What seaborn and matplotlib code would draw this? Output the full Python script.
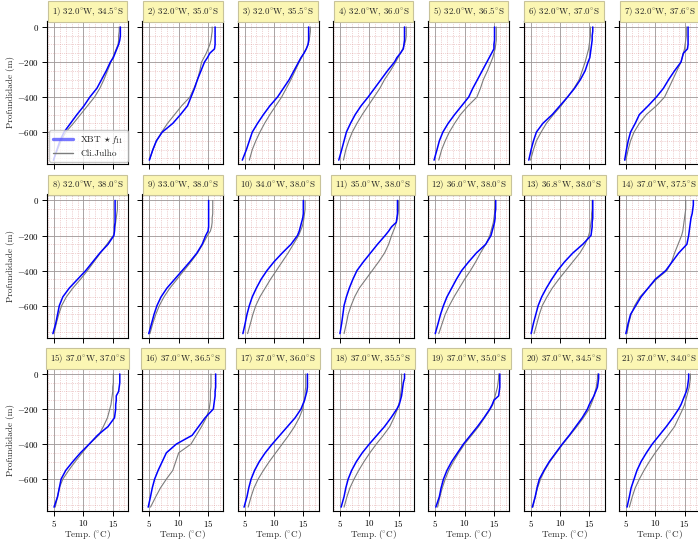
import matplotlib
matplotlib.use("Agg")
import numpy as np
import pandas as pd
import matplotlib.pyplot as plt
import seaborn as sns
from matplotlib.ticker import AutoMinorLocator, FixedLocator
from matplotlib.lines import Line2D

# ---------------- data ----------------
DEPTH = [0, 25, 50, 75, 100, 125, 150, 175, 200, 250, 300, 350, 400, 450, 500, 550, 600, 650, 700, 760]

LON = [32.0, 32.0, 32.0, 32.0, 32.0, 32.0, 32.0, 32.0, 33.0, 34.0, 35.0, 36.0, 36.8,
       37.0, 37.0, 37.0, 37.0, 37.0, 37.0, 37.0, 37.0]
LAT = [34.5, 35.0, 35.5, 36.0, 36.5, 37.0, 37.6, 38.0, 38.0, 38.0, 38.0, 38.0, 38.0,
       37.5, 37.0, 36.5, 36.0, 35.5, 35.0, 34.5, 34.0]

xbt_01 = [16.3, 16.3, 16.3, 16.2, 16.0, 15.7, 15.4, 15.1, 14.6, 13.9, 13.1, 12.3, 11.1, 10.1, 8.9, 7.8, 6.7, 6.0, 5.5, 4.9]
cli_01 = [16.1, 16.1, 16.0, 16.0, 15.9, 15.6, 15.3, 15.0, 14.7, 14.1, 13.5, 12.8, 11.9, 10.7, 9.5, 8.3, 7.0, 6.2, 5.6, 4.9]
xbt_02 = [16.2, 16.2, 16.2, 16.2, 16.2, 16.1, 15.3, 14.9, 14.4, 13.8, 13.2, 12.7, 12.1, 11.5, 10.3, 9.0, 7.2, 6.2, 5.6, 5.0]
cli_02 = [15.7, 15.7, 15.6, 15.5, 15.3, 15.0, 14.7, 14.3, 13.9, 13.6, 13.2, 12.6, 11.9, 10.5, 9.3, 8.1, 7.1, 6.2, 5.6, 5.0]
xbt_03 = [15.9, 15.9, 15.9, 15.9, 15.8, 15.5, 15.1, 14.6, 14.2, 13.4, 12.6, 11.6, 10.6, 9.3, 8.2, 7.2, 6.3, 5.8, 5.3, 4.6]
cli_03 = [16.2, 16.2, 16.1, 16.0, 15.8, 15.5, 15.1, 14.7, 14.3, 13.6, 12.9, 12.1, 11.3, 10.3, 9.3, 8.4, 7.6, 6.9, 6.3, 5.8]
xbt_04 = [16.0, 16.0, 16.0, 16.0, 15.9, 15.8, 15.3, 14.7, 14.3, 13.1, 12.0, 10.9, 9.8, 8.6, 7.6, 6.8, 6.1, 5.7, 5.3, 4.8]
cli_04 = [16.3, 16.3, 16.3, 16.2, 16.0, 15.7, 15.3, 14.9, 14.5, 13.6, 12.6, 11.8, 10.8, 9.8, 8.8, 7.9, 7.1, 6.5, 6.0, 5.6]
xbt_05 = [15.1, 15.1, 15.1, 15.1, 15.0, 15.0, 14.6, 14.2, 13.8, 13.0, 12.2, 11.4, 10.7, 9.5, 8.3, 7.2, 6.3, 5.7, 5.3, 4.8]
cli_05 = [15.4, 15.4, 15.4, 15.4, 15.3, 15.2, 15.0, 14.8, 14.5, 13.9, 13.2, 12.7, 12.1, 10.6, 9.3, 8.3, 7.4, 6.7, 6.1, 5.6]
xbt_06 = [15.6, 15.6, 15.5, 15.5, 15.4, 15.3, 15.2, 15.1, 14.8, 14.3, 13.5, 12.5, 11.3, 10.0, 8.7, 7.1, 6.0, 5.5, 5.1, 4.7]
cli_06 = [15.2, 15.2, 15.2, 15.1, 15.0, 14.9, 14.7, 14.5, 14.3, 13.8, 13.3, 12.4, 11.3, 10.2, 8.9, 7.7, 6.8, 6.0, 5.5, 5.0]
xbt_07 = [15.6, 15.6, 15.6, 15.6, 15.6, 15.5, 14.8, 14.6, 14.4, 13.3, 12.3, 11.4, 10.2, 8.8, 7.3, 6.6, 5.8, 5.4, 5.1, 4.8]
cli_07 = [15.3, 15.3, 15.3, 15.2, 15.1, 15.0, 14.8, 14.6, 14.4, 13.7, 13.0, 12.3, 11.6, 10.2, 8.5, 7.3, 6.4, 5.8, 5.4, 5.0]
xbt_08 = [15.4, 15.4, 15.4, 15.4, 15.4, 15.4, 15.3, 15.3, 15.2, 14.2, 12.8, 11.6, 10.4, 9.0, 7.6, 6.5, 5.9, 5.6, 5.3, 4.8]
cli_08 = [15.8, 15.8, 15.8, 15.7, 15.6, 15.5, 15.4, 15.3, 15.1, 14.0, 12.9, 11.8, 10.7, 9.5, 8.2, 7.1, 6.3, 5.8, 5.4, 5.0]
xbt_09 = [15.1, 15.1, 15.1, 15.1, 15.1, 15.1, 15.1, 15.0, 14.6, 14.0, 13.1, 11.9, 10.6, 9.3, 8.0, 7.0, 6.3, 5.8, 5.4, 4.9]
cli_09 = [15.8, 15.8, 15.8, 15.8, 15.7, 15.7, 15.6, 15.4, 14.9, 14.1, 13.2, 12.1, 10.9, 9.7, 8.5, 7.5, 6.7, 6.1, 5.6, 5.1]
xbt_10 = [15.0, 15.0, 15.0, 15.0, 14.9, 14.7, 14.5, 14.3, 14.0, 12.9, 11.4, 10.0, 8.8, 7.8, 7.0, 6.3, 5.8, 5.4, 5.1, 4.7]
cli_10 = [15.3, 15.3, 15.3, 15.2, 15.1, 15.0, 14.8, 14.5, 14.2, 13.3, 12.4, 11.4, 10.4, 9.4, 8.5, 7.6, 6.9, 6.4, 6.0, 5.5]
xbt_11 = [14.8, 14.8, 14.8, 14.8, 14.7, 14.6, 13.8, 13.3, 12.7, 11.4, 10.2, 9.0, 7.9, 7.2, 6.6, 6.1, 5.7, 5.5, 5.3, 5.0]
cli_11 = [15.0, 15.0, 15.0, 14.9, 14.8, 14.6, 14.4, 14.1, 13.8, 13.3, 12.6, 11.6, 10.5, 9.4, 8.3, 7.5, 6.9, 6.4, 6.1, 5.7]
xbt_12 = [15.3, 15.3, 15.3, 15.2, 15.2, 15.1, 14.9, 14.7, 14.5, 13.6, 12.0, 10.7, 9.5, 8.6, 7.8, 7.0, 6.4, 5.9, 5.5, 5.0]
cli_12 = [15.2, 15.2, 15.1, 15.1, 15.0, 14.9, 14.7, 14.5, 14.3, 13.6, 12.7, 11.9, 11.0, 10.0, 9.1, 8.2, 7.4, 6.7, 6.2, 5.6]
xbt_13 = [15.6, 15.6, 15.6, 15.6, 15.6, 15.5, 15.5, 15.4, 15.3, 13.9, 12.2, 10.8, 9.6, 8.6, 7.7, 6.9, 6.3, 5.9, 5.5, 5.1]
cli_13 = [15.5, 15.5, 15.5, 15.4, 15.4, 15.3, 15.2, 15.1, 14.9, 14.3, 13.4, 12.2, 11.0, 9.8, 8.7, 7.8, 7.0, 6.5, 6.1, 5.6]
xbt_14 = [16.5, 16.5, 16.4, 16.3, 16.1, 16.0, 15.9, 15.8, 15.7, 15.4, 14.0, 12.9, 11.8, 10.0, 8.8, 7.6, 6.7, 5.8, 5.4, 5.0]
cli_14 = [15.2, 15.2, 15.2, 15.1, 15.0, 14.9, 14.8, 14.7, 14.5, 13.9, 13.3, 12.8, 12.0, 10.2, 8.8, 7.4, 6.5, 5.9, 5.5, 5.2]
xbt_15 = [16.2, 16.2, 16.2, 16.1, 16.0, 15.6, 15.6, 15.5, 15.5, 15.3, 14.2, 12.4, 11.0, 9.5, 8.2, 7.0, 6.2, 5.9, 5.6, 5.0]
cli_15 = [15.1, 15.1, 15.1, 15.0, 15.0, 14.9, 14.8, 14.7, 14.5, 14.1, 13.4, 12.6, 11.0, 9.8, 8.6, 7.5, 6.5, 5.9, 5.6, 5.2]
xbt_16 = [16.3, 16.3, 16.3, 16.3, 16.2, 16.2, 16.1, 16.0, 15.9, 14.5, 13.4, 12.3, 9.6, 7.9, 7.2, 6.5, 5.9, 5.5, 5.2, 4.8]
cli_16 = [15.5, 15.5, 15.5, 15.5, 15.4, 15.4, 15.4, 15.3, 15.2, 14.7, 13.9, 13.0, 12.1, 10.0, 9.5, 9.0, 7.9, 6.9, 6.1, 5.2]
xbt_17 = [15.7, 15.7, 15.7, 15.7, 15.6, 15.4, 15.2, 14.9, 14.6, 13.6, 12.3, 11.0, 9.7, 8.5, 7.5, 6.7, 6.1, 5.7, 5.4, 4.9]
cli_17 = [15.4, 15.4, 15.4, 15.4, 15.3, 15.3, 15.2, 15.0, 14.9, 14.3, 13.5, 12.5, 11.4, 10.3, 9.2, 8.2, 7.3, 6.6, 6.1, 5.6]
xbt_18 = [16.0, 16.0, 15.8, 15.7, 15.6, 15.5, 15.3, 15.1, 14.7, 13.7, 12.6, 11.3, 10.0, 8.8, 7.8, 7.0, 6.4, 6.0, 5.7, 5.2]
cli_18 = [15.5, 15.5, 15.5, 15.5, 15.4, 15.3, 15.2, 15.0, 14.8, 14.2, 13.5, 12.4, 11.2, 10.1, 9.1, 8.2, 7.4, 6.7, 6.2, 5.7]
xbt_19 = [16.0, 16.0, 16.0, 16.0, 15.9, 15.8, 15.0, 14.7, 14.3, 13.3, 12.2, 11.0, 9.8, 8.8, 7.8, 7.0, 6.4, 6.0, 5.7, 5.1]
cli_19 = [15.8, 15.8, 15.7, 15.6, 15.4, 15.2, 15.0, 14.8, 14.4, 13.4, 12.4, 11.2, 10.0, 9.0, 8.1, 7.3, 6.7, 6.2, 5.8, 5.4]
xbt_20 = [16.6, 16.6, 16.5, 16.4, 16.1, 15.8, 15.4, 15.0, 14.7, 13.8, 12.7, 11.6, 10.4, 9.3, 8.2, 7.3, 6.5, 6.1, 5.8, 5.3]
cli_20 = [16.4, 16.4, 16.3, 16.2, 16.0, 15.8, 15.6, 15.3, 15.0, 14.0, 12.9, 11.7, 10.5, 9.4, 8.3, 7.4, 6.7, 6.2, 5.8, 5.4]
xbt_21 = [15.7, 15.7, 15.6, 15.5, 15.3, 15.0, 14.7, 14.4, 14.0, 13.0, 11.9, 10.7, 9.5, 8.5, 7.6, 6.9, 6.4, 5.9, 5.6, 5.2]
cli_21 = [16.0, 16.0, 15.9, 15.8, 15.6, 15.4, 15.2, 15.0, 14.7, 14.0, 13.3, 12.2, 11.1, 10.0, 9.0, 8.1, 7.3, 6.6, 6.1, 5.6]

XBT = [xbt_01, xbt_02, xbt_03, xbt_04, xbt_05, xbt_06, xbt_07, xbt_08, xbt_09, xbt_10, xbt_11,
       xbt_12, xbt_13, xbt_14, xbt_15, xbt_16, xbt_17, xbt_18, xbt_19, xbt_20, xbt_21]
CLI = [cli_01, cli_02, cli_03, cli_04, cli_05, cli_06, cli_07, cli_08, cli_09, cli_10, cli_11,
       cli_12, cli_13, cli_14, cli_15, cli_16, cli_17, cli_18, cli_19, cli_20, cli_21]

X_TICKS = [5, 10, 15]
Y_TICKS = [0, -200, -400, -600]
LBL_XBT = r"XBT $\star\, f_{11}$"
LBL_CLI = "Cli.Julho"

# ---------------- style ----------------
sns.set_style("white")
plt.rcParams.update({
    "font.family": ["cmr10", "DejaVu Serif"],
    "mathtext.fontset": "cm",
    "axes.formatter.use_mathtext": True,
    "axes.unicode_minus": True,
})

W, H = 698, 543
fig = plt.figure(figsize=(W / 100, H / 100), dpi=100)

left0, pitch_x, aw = 47, 95.3, 81
top0, pitch_y, ah = 21, 173.5, 143

FS = 6.4
for i in range(21):
    r, c = divmod(i, 7)
    lx = left0 + pitch_x * c
    ty = top0 + pitch_y * r
    ax = fig.add_axes([lx / W, 1 - (ty + ah) / H, aw / W, ah / H])
    ax.set_facecolor("white")

    depth = -np.asarray(DEPTH, dtype=float)
    df = pd.DataFrame({
        "Temp": list(XBT[i]) + list(CLI[i]),
        "Prof": list(depth) + list(depth),
        "Fonte": [LBL_XBT] * len(DEPTH) + [LBL_CLI] * len(DEPTH),
    })
    sns.lineplot(data=df[df.Fonte == LBL_CLI], x="Temp", y="Prof", color="#7c7c7c",
                 lw=0.8, sort=False, estimator=None, orient="y", ax=ax, legend=False, zorder=3)
    sns.lineplot(data=df[df.Fonte == LBL_XBT], x="Temp", y="Prof", color="#0000ff",
                 lw=1.1, sort=False, estimator=None, orient="y", ax=ax, legend=False, zorder=4)

    ax.set_xlim(3.8, 17.6)
    ax.set_ylim(-782, 34)
    ax.xaxis.set_major_locator(FixedLocator(X_TICKS))
    ax.yaxis.set_major_locator(FixedLocator(Y_TICKS))
    ax.xaxis.set_minor_locator(AutoMinorLocator(5))
    ax.yaxis.set_minor_locator(AutoMinorLocator(4))
    ax.grid(which="major", color="#a09a9a", lw=0.7, alpha=0.9, zorder=1)
    ax.grid(which="minor", color="#d88c8c", lw=0.5, ls=":", alpha=0.75, zorder=1)
    ax.set_axisbelow(True)
    ax.tick_params(which="major", direction="out", length=3.5, width=0.7, pad=2,
                   labelsize=FS, left=True, bottom=True, colors="black")
    ax.tick_params(axis="x", which="major", pad=1.2)
    ax.tick_params(which="minor", length=0)
    for s in ax.spines.values():
        s.set_color("black")
        s.set_linewidth(0.8)

    if c == 0:
        ax.set_ylabel("Profundidade (m)", fontsize=FS + 0.2, labelpad=2)
    else:
        ax.set_ylabel("")
        ax.tick_params(labelleft=False)
    if r == 2:
        ax.set_xlabel(r"Temp. ($\!^{\circ}$C)", fontsize=FS + 0.2, labelpad=-0.5)
    else:
        ax.set_xlabel("")
        ax.tick_params(labelbottom=False)

    title = (f"{i + 1}) " + f"${LON[i]:.1f}" + r"^{\circ}$W, " +
             f"${LAT[i]:.1f}" + r"^{\circ}$S")
    ax.set_title(title, fontsize=FS, pad=5.0,
                 bbox=dict(boxstyle="square,pad=0.45", fc="#fbf6b3", ec="#c8c39a", lw=0.8))

    if i == 0:
        handles = [Line2D([], [], color="#4a4aff", lw=2.4, alpha=0.75),
                   Line2D([], [], color="#7c7c7c", lw=1.0)]
        ax.legend(handles, [LBL_XBT, LBL_CLI], loc="lower left", fontsize=FS + 0.3,
                  frameon=True, framealpha=0.8, edgecolor="#bbbbbb", fancybox=True,
                  handlelength=2.2, borderpad=0.4, labelspacing=0.4, borderaxespad=0.2)

fig.savefig("out.png", dpi=100, facecolor="white")
